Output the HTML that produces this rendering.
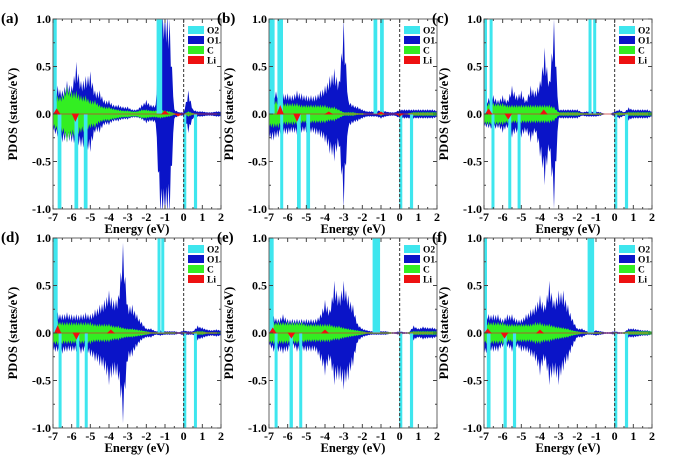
<!DOCTYPE html>
<html><head><meta charset="utf-8"><style>
body{margin:0;background:#fff}
svg{display:block;font-family:"Liberation Serif",serif;font-weight:bold}
</style></head><body>
<svg id="fig" width="675" height="468" viewBox="0 0 675 468"></svg>
<script>
// energy grid: -7 to 2 step 0.25 (37 points)
const panelLabels = ["(a)","(b)","(c)","(d)","(e)","(f)"];
const xTicks = [-7,-6,-5,-4,-3,-2,-1,0,1,2];
const yTicks = [-1,-0.5,0,0.5,1];
const yTickLabels = ["-1.0","-0.5","0.0","0.5","1.0"];
const legendLabels = ["O2","O1","C","Li"];

const o1UpA = [0.2,0.3,0.25,0.35,0.3,0.55,0.35,0.4,0.45,0.25,0.25,0.15,0.15,0.1,0.1,0.08,0.08,0.05,0.05,0.1,0.15,0.1,0.1,1.2,1.2,1.0,0.05,0.02,0.02,0.25,0.05,0.03,0.03,0.02,0.02,0.03,0.03];
const o1DnA = [0.2,0.25,0.3,0.3,0.3,0.35,0.35,0.4,0.4,0.2,0.2,0.12,0.12,0.08,0.08,0.06,0.06,0.04,0.04,0.06,0.1,0.08,0.1,1.2,1.2,1.1,0.05,0.02,0.02,0.2,0.05,0.03,0.03,0.02,0.02,0.03,0.03];
const cA = [0.15,0.2,0.2,0.3,0.25,0.25,0.2,0.2,0.15,0.15,0.1,0.08,0.08,0.06,0.05,0.04,0.04,0.03,0.03,0.05,0.05,0.04,0.04,0.05,0.04,0.03,0.01,0,0,0.03,0.01,0,0,0,0,0,0];
const o1UpB = [0.28,0.25,0.25,0.22,0.22,0.2,0.25,0.22,0.2,0.2,0.2,0.25,0.3,0.4,0.48,0.35,1.0,0.15,0.1,0.08,0.05,0.03,0.03,0.03,0.05,0.03,0.02,0.02,0.05,0.05,0.05,0.05,0.05,0.05,0.05,0.05,0.04];
const o1DnB = [0.3,0.28,0.25,0.22,0.22,0.2,0.22,0.2,0.2,0.2,0.22,0.25,0.3,0.42,0.5,0.35,1.0,0.15,0.1,0.08,0.05,0.03,0.03,0.03,0.05,0.03,0.02,0.02,0.05,0.05,0.05,0.05,0.05,0.05,0.05,0.05,0.04];
const cB = [0.15,0.15,0.15,0.12,0.12,0.12,0.12,0.1,0.1,0.1,0.1,0.1,0.1,0.08,0.08,0.05,0.02,0.02,0.02,0.01,0.01,0,0,0,0.02,0,0,0,0.01,0,0.01,0.02,0.02,0.02,0.02,0.02,0.02];
const o1UpC = [0.15,0.17,0.2,0.15,0.2,0.15,0.3,0.2,0.25,0.15,0.3,0.25,0.35,0.7,0.35,1.0,0.05,0.05,0.05,0.05,0.05,0.02,0.03,0.03,0.03,0.02,0,0,0.03,0.05,0.02,0.07,0.05,0.05,0.05,0.05,0.03];
const o1DnC = [0.15,0.15,0.18,0.15,0.2,0.15,0.25,0.2,0.25,0.2,0.3,0.2,0.45,0.75,0.4,1.0,0.05,0.05,0.05,0.05,0.05,0.02,0.03,0.03,0.03,0.02,0,0,0.03,0.05,0.02,0.07,0.05,0.05,0.05,0.05,0.03];
const cC = [0.12,0.12,0.12,0.12,0.12,0.1,0.1,0.1,0.1,0.1,0.1,0.1,0.1,0.1,0.1,0.08,0.02,0.02,0.02,0.02,0.02,0.01,0.01,0.01,0.01,0.01,0,0,0.01,0.02,0.01,0.02,0.02,0.02,0.02,0.02,0.02];
const o1UpD = [0.2,0.22,0.2,0.22,0.2,0.2,0.2,0.22,0.2,0.25,0.3,0.35,0.45,0.35,0.4,0.95,0.3,0.3,0.2,0.12,0.05,0.05,0.02,0.03,0.02,0.02,0.02,0.01,0.03,0.02,0.02,0.08,0.06,0.04,0.03,0.04,0.03];
const o1DnD = [0.22,0.2,0.22,0.2,0.2,0.2,0.22,0.2,0.25,0.3,0.35,0.4,0.55,0.45,0.5,0.95,0.3,0.25,0.15,0.08,0.05,0.05,0.02,0.03,0.02,0.02,0.02,0.01,0.03,0.02,0.02,0.08,0.06,0.04,0.03,0.04,0.03];
const cD = [0.13,0.13,0.12,0.12,0.12,0.12,0.12,0.12,0.12,0.1,0.1,0.1,0.1,0.08,0.08,0.06,0.05,0.05,0.04,0.03,0.02,0.01,0.01,0.01,0.01,0.01,0.01,0,0.01,0,0.01,0.02,0.02,0.01,0.01,0.01,0.01];
const o1UpE = [0.2,0.18,0.15,0.2,0.15,0.15,0.15,0.15,0.15,0.15,0.15,0.2,0.35,0.25,0.55,0.4,0.55,0.4,0.3,0.1,0.05,0.03,0.02,0.02,0.02,0.02,0.01,0.01,0.02,0.01,0.01,0.08,0.05,0.07,0.06,0.06,0.05];
const o1DnE = [0.15,0.2,0.2,0.22,0.2,0.15,0.2,0.2,0.2,0.2,0.2,0.3,0.45,0.3,0.55,0.5,0.6,0.5,0.35,0.1,0.05,0.03,0.02,0.02,0.02,0.02,0.01,0.01,0.02,0.01,0.01,0.08,0.05,0.07,0.06,0.06,0.05];
const cE = [0.12,0.12,0.12,0.12,0.12,0.12,0.12,0.12,0.1,0.1,0.1,0.1,0.1,0.1,0.08,0.08,0.06,0.05,0.04,0.03,0.02,0.01,0.01,0.01,0.01,0.01,0.01,0,0.01,0,0.01,0.02,0.02,0.02,0.02,0.02,0.02];
const o1UpF = [0.25,0.2,0.2,0.2,0.15,0.2,0.2,0.15,0.15,0.2,0.25,0.3,0.4,0.3,0.55,0.35,0.45,0.45,0.3,0.15,0.05,0.05,0.02,0.02,0.03,0.02,0.01,0.01,0.02,0.01,0.01,0.05,0.05,0.04,0.03,0.03,0.02];
const o1DnF = [0.25,0.2,0.2,0.2,0.15,0.15,0.2,0.15,0.2,0.2,0.25,0.3,0.45,0.3,0.55,0.45,0.55,0.4,0.3,0.15,0.05,0.05,0.02,0.02,0.03,0.02,0.01,0.01,0.02,0.01,0.01,0.05,0.05,0.04,0.03,0.03,0.02];
const cF = [0.12,0.12,0.12,0.12,0.12,0.1,0.1,0.1,0.1,0.1,0.1,0.12,0.12,0.1,0.1,0.08,0.07,0.06,0.05,0.03,0.02,0.01,0.01,0.01,0.01,0.01,0,0,0.01,0,0.01,0.02,0.02,0.02,0.02,0.02,0.02];

// O2 bands: [start eV, end eV, direction]
const o2A = [[-7,-6.8,1],[-1.45,-1.15,1],[-6.75,-6.55,-1],[-5.85,-5.65,-1],[-5.35,-5.15,-1],[-0.02,0.06,-1],[0.55,0.72,-1]];
const o2B = [[-7,-6.7,1],[-6.55,-6.25,1],[-1.4,-1.2,1],[-1.05,-0.85,1],[-6.4,-6.25,-1],[-5.5,-5.3,-1],[-5.0,-4.8,-1],[-0.02,0.06,-1],[0.55,0.72,-1]];
const o2C = [[-7,-6.85,1],[-6.7,-6.55,1],[-1.4,-1.25,1],[-1.15,-1.0,1],[-6.6,-6.45,-1],[-5.7,-5.55,-1],[-5.2,-5.05,-1],[-0.02,0.06,-1],[0.55,0.72,-1]];
const o2D = [[-7,-6.75,1],[-1.4,-1.25,1],[-1.2,-1.05,1],[-6.7,-6.55,-1],[-5.75,-5.6,-1],[-5.3,-5.15,-1],[-0.02,0.06,-1],[0.55,0.7,-1]];
const o2E = [[-7,-6.75,1],[-1.45,-1.05,1],[-6.7,-6.55,-1],[-5.9,-5.72,-1],[-5.38,-5.22,-1],[-0.02,0.06,-1],[0.55,0.72,-1]];
const o2F = [[-7,-6.85,1],[-1.45,-1.1,1],[-6.85,-6.65,-1],[-5.95,-5.78,-1],[-5.45,-5.28,-1],[-0.02,0.06,-1],[0.55,0.72,-1]];

// Li peaks: energies and signed heights
const liEA = [-6.8,-5.8,-1.0,-0.3]; const liVA = [0.05,-0.07,0.03,-0.02];
const liEB = [-6.4,-5.5,-3.8,-1.0,0]; const liVB = [0.08,-0.07,0.02,0.02,-0.02];
const liEC = [-6.75,-5.7,-3.8]; const liVC = [0.05,-0.05,0.04];
const liED = [-6.75,-5.75,-3.9]; const liVD = [0.07,-0.06,0.03];
const liEE = [-6.8,-5.8,-4.0]; const liVE = [0.05,-0.05,0.03];
const liEF = [-6.8,-5.9,-4.0]; const liVF = [0.04,-0.05,0.03];

const panels = [
 {up:o1UpA,dn:o1DnA,c:cA,o2:o2A,liE:liEA,liV:liVA},
 {up:o1UpB,dn:o1DnB,c:cB,o2:o2B,liE:liEB,liV:liVB},
 {up:o1UpC,dn:o1DnC,c:cC,o2:o2C,liE:liEC,liV:liVC},
 {up:o1UpD,dn:o1DnD,c:cD,o2:o2D,liE:liED,liV:liVD},
 {up:o1UpE,dn:o1DnE,c:cE,o2:o2E,liE:liEE,liV:liVE},
 {up:o1UpF,dn:o1DnF,c:cF,o2:o2F,liE:liEF,liV:liVF}
];

const NS="http://www.w3.org/2000/svg";
const svg=document.getElementById('fig');
function mk(tag,attrs,parent){const e=document.createElementNS(NS,tag);for(const k in attrs)e.setAttribute(k,attrs[k]);(parent||svg).appendChild(e);return e;}
const lefts=[53,269,484], tops=[19,238], PW=168, PH=190;
const COL={o2:"#3ee6ee",o1:"#0a14c8",c:"#33ee22",li:"#ee1111"};
const SUB=[0,0.25,0.5,0.75], SUBF=[1,0.65,0.95,0.65];

panels.forEach((p,i)=>{
 const L=lefts[i%3], T=tops[Math.floor(i/3)];
 const g=mk('g',{});
 
 
 const X=e=>L+(e+7)/9*PW;
 const Y=v=>T+PH/2-Math.max(-1.05,Math.min(1.05,v))*PH/2;
 const grid=p.up.map((_,k)=>-7+k*0.25);
 const clipId='clip'+i;
 const cp=mk('clipPath',{id:clipId},g); mk('rect',{x:L,y:T,width:PW,height:PH},cp);
 const plot=mk('g',{'clip-path':'url(#'+clipId+')'},g);
 function trace(arr,sign){
  const out=[];
  for(let k=0;k<grid.length;k++){
   if(k===grid.length-1){out.push([X(grid[k]),Y(sign*arr[k])]);break;}
   SUB.forEach((s,j)=>{
    const v=arr[k]*(1-s)+arr[k+1]*s;
    out.push([X(grid[k]+s*0.25),Y(sign*v*SUBF[j])]);
   });
  }
  return out;
 }
 function env(upArr,dnArr,color,name){
  const pts=trace(upArr,1).concat(trace(dnArr,-1).reverse());
  const d='M'+pts.map(q=>q[0].toFixed(1)+','+q[1].toFixed(1)).join('L')+'Z';
  const path=mk('path',{d:d,fill:color},plot);
  
  
 }
 env(p.up,p.dn,COL.o1,'o1-series');
 env(p.c,p.c,COL.c,'c-series');
 p.o2.forEach(b=>{
  const y0=Y(0), y1=Y(b[2]*1.05);
  const r=mk('rect',{x:X(b[0]),y:Math.min(y0,y1),width:Math.max(3,X(b[1])-X(b[0])),height:Math.abs(y1-y0),fill:COL.o2},plot);
  
  
 });
 mk('line',{x1:L,x2:L+PW,y1:Y(0),y2:Y(0),stroke:'#c33',"stroke-width":0.8},plot);
 p.liE.forEach((e,k)=>{
  const v=p.liV[k];
  const t=mk('path',{d:`M${X(e)-3},${Y(0)}L${X(e)},${Y(v)}L${X(e)+3},${Y(0)}Z`,fill:COL.li,stroke:COL.li,"stroke-width":1},plot);
  
  
 });
 mk('line',{x1:X(0),x2:X(0),y1:T,y2:T+PH,stroke:'#333',"stroke-width":1,"stroke-dasharray":"3,2"},g);
 const frame=mk('rect',{x:L,y:T,width:PW,height:PH,fill:'none',stroke:'#666',"stroke-width":1},g);
 
 
 for(let e=-7;e<=2.001;e+=0.5){
  const len=Math.abs(e-Math.round(e))<0.01?4:2;
  mk('line',{x1:X(e),x2:X(e),y1:T+PH,y2:T+PH-len,stroke:'#444'},g);
  mk('line',{x1:X(e),x2:X(e),y1:T,y2:T+len,stroke:'#444'},g);
 }
 for(let v=-1;v<=1.001;v+=0.25){
  const len=Math.abs(v*2-Math.round(v*2))<0.01?4:2;
  mk('line',{x1:L,x2:L+len,y1:Y(v),y2:Y(v),stroke:'#444'},g);
  mk('line',{x1:L+PW,x2:L+PW-len,y1:Y(v),y2:Y(v),stroke:'#444'},g);
 }
 xTicks.forEach(t=>{
  const tx=mk('text',{x:X(t),y:T+PH+12,"font-size":12,"text-anchor":"middle"},g);
  tx.textContent=t;
  
  
 });
 yTicks.forEach((t,k)=>{
  const tx=mk('text',{x:L-2,y:Y(t)+4,"font-size":12,"text-anchor":"end"},g);
  tx.textContent=yTickLabels[k];
  
  
 });
 const xt=mk('text',{x:L+PW/2,y:T+PH+24,"font-size":12.5,"text-anchor":"middle"},g);
 xt.textContent='Energy (eV)';
 
 
 const yt=mk('text',{x:0,y:0,"font-size":12.5,"text-anchor":"middle",transform:`translate(${L-36},${T+PH/2}) rotate(-90)`},g);
 yt.textContent='PDOS (states/eV)';
 
 
 const pl=mk('text',{x:L-52,y:T+4,"font-size":15},g);
 pl.textContent=panelLabels[i];
 
 
 const lc=[COL.o2,COL.o1,COL.c,COL.li];
 legendLabels.forEach((lab,k)=>{
  const ly=T+7+k*10;
  const sw=mk('rect',{x:L+PW-33,y:ly,width:16,height:8,fill:lc[k]},g);
  
  
  const lt=mk('text',{x:L+PW-14,y:ly+7.5,"font-size":9.5},g);
  lt.textContent=lab;
  
  
 });
});
</script>
</body></html>
